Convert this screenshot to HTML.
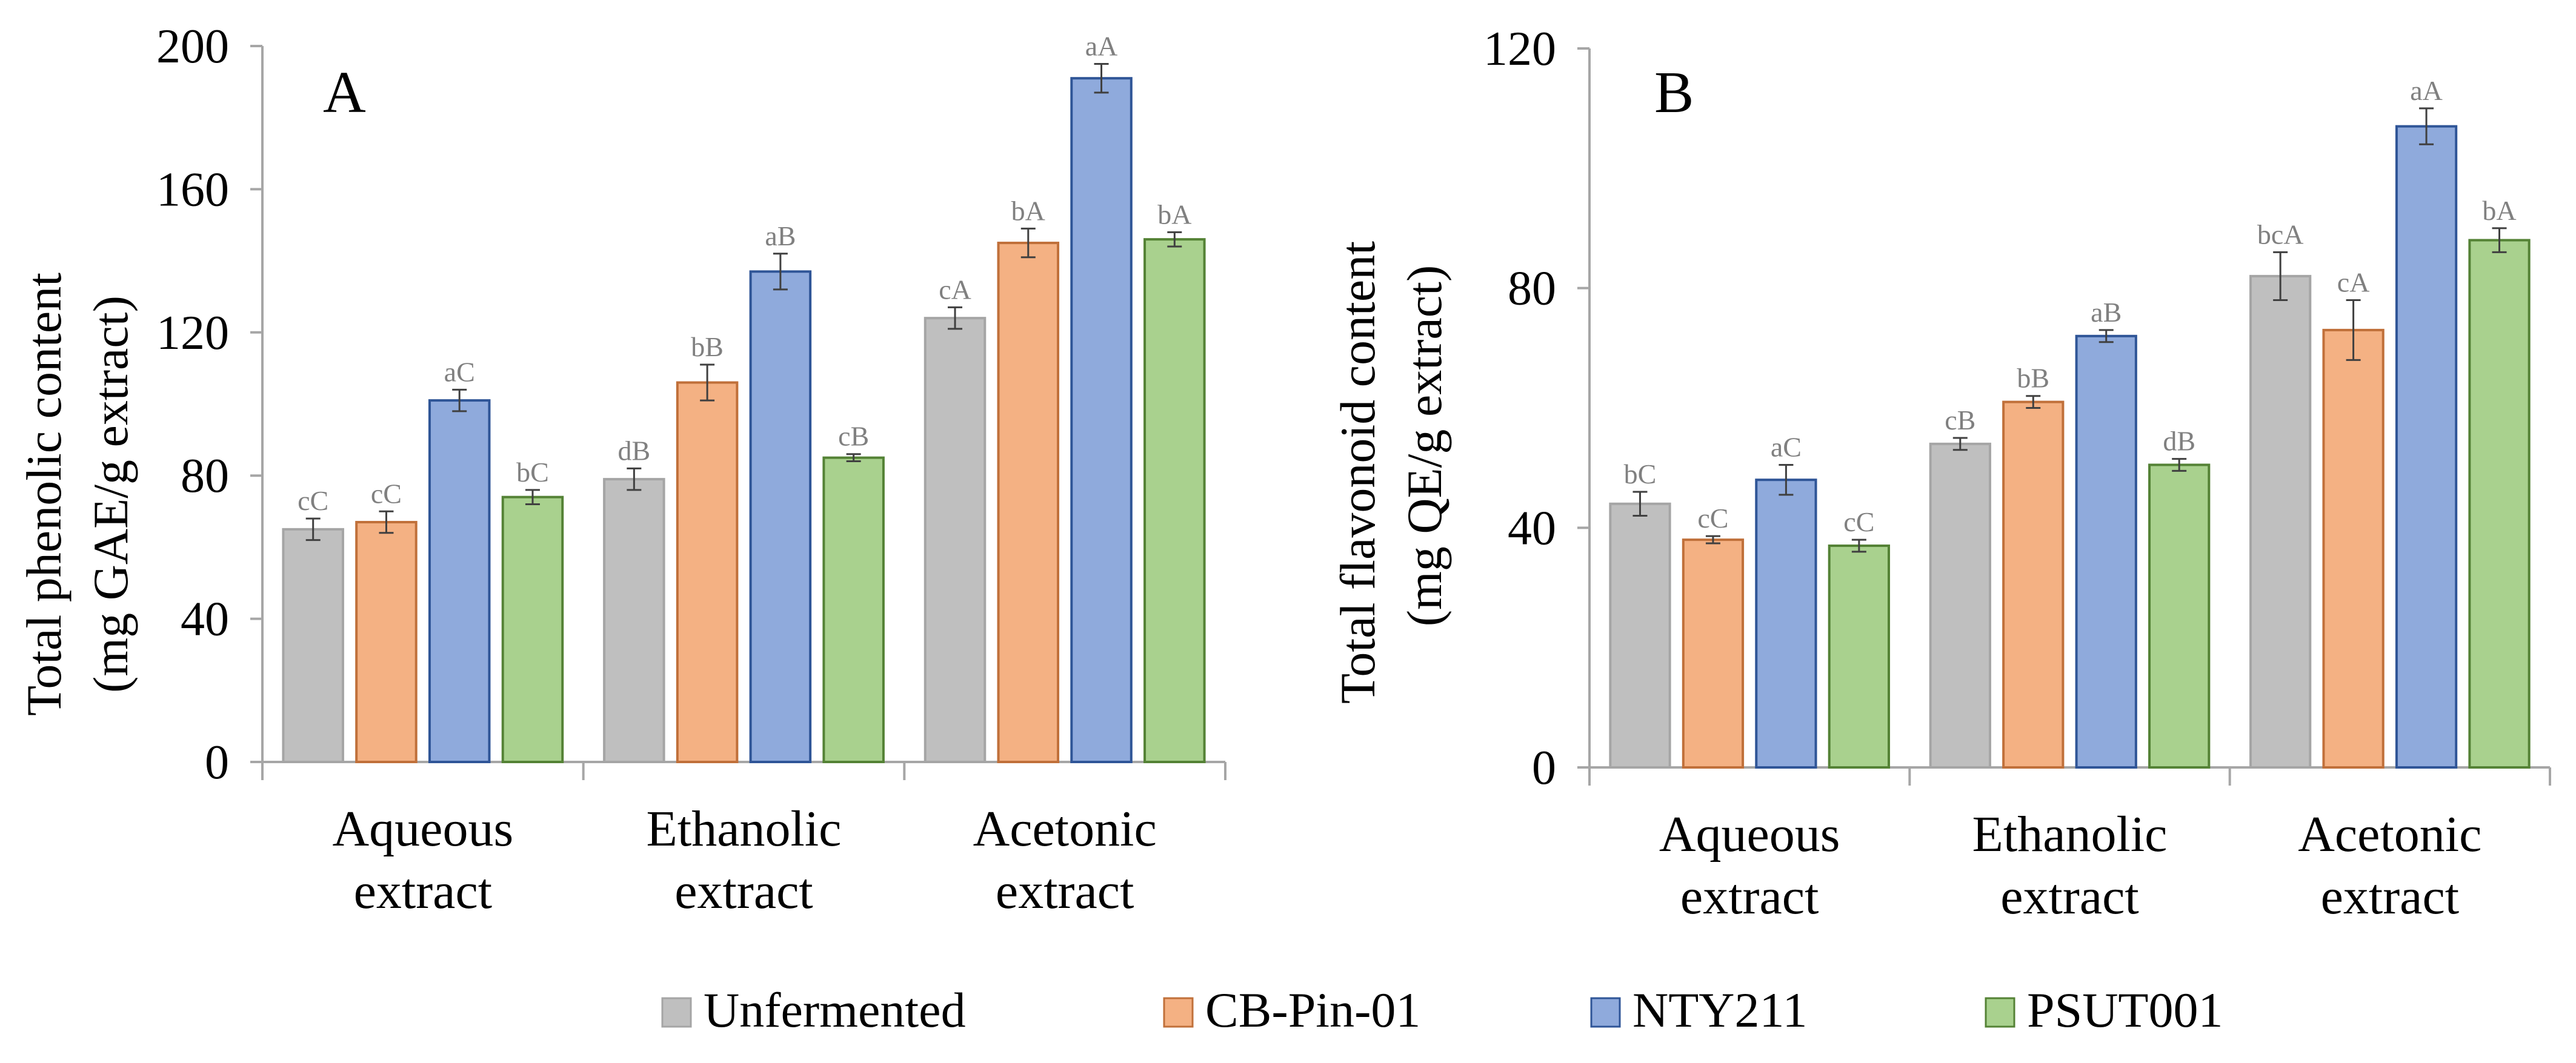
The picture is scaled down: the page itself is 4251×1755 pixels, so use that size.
<!DOCTYPE html>
<html><head><meta charset="utf-8"><style>
html,body{margin:0;padding:0;background:#fff;}
svg{display:block;font-family:"Liberation Serif",serif;}
</style></head><body>
<svg id="chart" width="4251" height="1755" viewBox="0 0 4251 1755" xmlns="http://www.w3.org/2000/svg"></svg>
<script>
const categories = ["Aqueous", "Ethanolic", "Acetonic"];
const seriesNames = ["Unfermented", "CB-Pin-01", "NTY211", "PSUT001"];
const phenolicValues = [[65,79,124],[67,106,145],[101,137,191],[74,85,146]];
const phenolicErrors = [[3,3,3],[3,5,4],[3,5,4],[2,1,2]];
const phenolicLetters = [["cC","dB","cA"],["cC","bB","bA"],["aC","aB","aA"],["bC","cB","bA"]];
const phenolicTicks = [0,40,80,120,160,200];
const flavonoidValues = [[44,54,82],[38,61,73],[48,72,107],[37,50.5,88]];
const flavonoidErrors = [[2,1,4],[0.6,1,5],[2.5,1,3],[1,1,2]];
const flavonoidLetters = [["bC","cB","bcA"],["cC","bB","cA"],["aC","aB","aA"],["cC","dB","bA"]];
const flavonoidTicks = [0,40,80,120];

const fills = ["#bfbfbf","#f4b183","#8faadc","#a9d18e"];
const strokes = ["#a5a5a5","#c0703a","#2f5597","#548235"];
const NS = "http://www.w3.org/2000/svg";
const svg = document.getElementById('chart');
function mk(tag, attrs, parent){const e=document.createElementNS(NS,tag);for(const k in attrs)e.setAttribute(k,attrs[k]);(parent||svg).appendChild(e);return e;}

function panel(cfg){
  const g = mk('g',{});
  
  
  const x0=cfg.x0,x1=cfg.x1,yb=cfg.y0,yt=cfg.yTop,max=cfg.ticks[cfg.ticks.length-1];
  const yScale=v=>yb-(v/max)*(yb-yt);
  const gw=(x1-x0)/categories.length;
  const bw=gw*0.186, gap=gw*0.042, margin=(gw-4*bw-3*gap)/2;
  const ya=mk('line',{x1:x0,y1:yt,x2:x0,y2:yb,stroke:'#a6a6a6','stroke-width':4},g);
  
  
  const xa=mk('line',{x1:x0,y1:yb,x2:x1,y2:yb,stroke:'#a6a6a6','stroke-width':4},g);
  
  
  cfg.ticks.forEach(t=>{
    const y=yScale(t);
    mk('line',{x1:x0-20,y1:y,x2:x0,y2:y,stroke:'#a6a6a6','stroke-width':4},g);
    const tx=mk('text',{x:x0-55,y:y+27,'font-size':80,'text-anchor':'end',fill:'#000'},g);
    tx.textContent=t;
    
    
  });
  for(let i=0;i<=categories.length;i++){
    const x=x0+i*gw;
    mk('line',{x1:x,y1:yb,x2:x,y2:yb+30,stroke:'#a6a6a6','stroke-width':4},g);
  }
  categories.forEach((c,ci)=>{
    const cx=x0+gw*(ci+0.5);
    const t1=mk('text',{x:cx,y:yb+138,'font-size':84,'text-anchor':'middle'},g);
    t1.textContent=c;
    
    
    const t2=mk('text',{x:cx,y:yb+241,'font-size':84,'text-anchor':'middle'},g);
    t2.textContent='extract';
    
    
    for(let s=0;s<4;s++){
      const v=cfg.values[s][ci], e=cfg.errors[s][ci];
      const bx=x0+gw*ci+margin+s*(bw+gap);
      const y=yScale(v);
      const r=mk('rect',{x:bx,y:y,width:bw,height:yb-y,fill:fills[s],stroke:strokes[s],'stroke-width':4},g);
      
      
      const mx=bx+bw/2, ytop=yScale(v+e), ybot=yScale(v-e);
      const eb=mk('path',{d:`M${mx-12},${ytop}H${mx+12}M${mx},${ytop}V${ybot}M${mx-12},${ybot}H${mx+12}`,stroke:'#404040','stroke-width':3,fill:'none'},g);
      
      
      const lt=mk('text',{x:mx,y:ytop-14,'font-size':46,'text-anchor':'middle',fill:'#808080'},g);
      lt.textContent=cfg.letters[s][ci];
      
      
    }
  });
  const pl=mk('text',{x:cfg.letterX,y:185,'font-size':98},g);
  pl.textContent=cfg.panelLetter;
  
  
  const tl=mk('text',{transform:`translate(${cfg.titleX},${cfg.titleY1}) rotate(-90)`,'font-size':82,'text-anchor':'middle'},g);
  tl.textContent=cfg.title1;
  
  
  const tl2=mk('text',{transform:`translate(${cfg.titleX+110},${cfg.titleY2}) rotate(-90)`,'font-size':82,'text-anchor':'middle'},g);
  tl2.textContent=cfg.title2;
  
  
}

panel({name:'panel-a-phenolic',x0:433,x1:2022,y0:1258,yTop:76,ticks:phenolicTicks,values:phenolicValues,errors:phenolicErrors,letters:phenolicLetters,panelLetter:'A',letterX:533,titleX:100,titleY1:816,titleY2:816,title1:'Total phenolic content',title2:'(mg GAE/g extract)'});
panel({name:'panel-b-flavonoid',x0:2623,x1:4208,y0:1267,yTop:80,ticks:flavonoidTicks,values:flavonoidValues,errors:flavonoidErrors,letters:flavonoidLetters,panelLetter:'B',letterX:2730,titleX:2268,titleY1:780,titleY2:736,title1:'Total flavonoid content',title2:'(mg QE/g extract)'});

const legendX=[1093,1921,2626,3277];
const lg=mk('g',{});


seriesNames.forEach((n,i)=>{
  const r=mk('rect',{x:legendX[i],y:1648,width:47,height:47,fill:fills[i],stroke:strokes[i],'stroke-width':3},lg);
  
  
  const t=mk('text',{x:legendX[i]+68,y:1695,'font-size':82},lg);
  t.textContent=n;
  
  
});
</script>
</body></html>
